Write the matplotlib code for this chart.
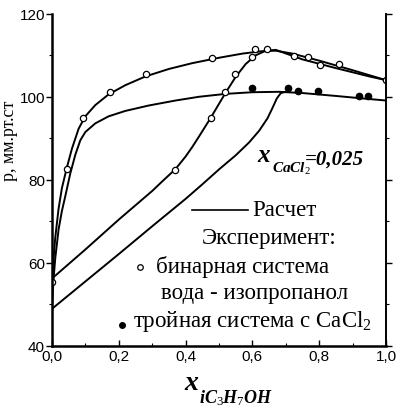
import numpy as np
import matplotlib.pyplot as plt
from matplotlib.ticker import MultipleLocator, FuncFormatter

plt.rcParams['font.family'] = ['Liberation Serif', 'DejaVu Serif']
plt.rcParams['mathtext.fontset'] = 'custom'
plt.rcParams['mathtext.it'] = 'Liberation Serif:italic:bold'
plt.rcParams['mathtext.rm'] = 'Liberation Serif'

# Расчетные кривые
# бинарная система, кривая кипения
x_bin_liq = [0.0, 0.005, 0.01, 0.02, 0.03, 0.045, 0.06, 0.08, 0.10, 0.13,
             0.17, 0.22, 0.28, 0.35, 0.42, 0.50, 0.57, 0.63, 0.67, 0.72,
             0.80, 0.90, 1.0]
p_bin_liq = [55.0, 61.0, 66.0, 73.0, 78.0, 83.0, 87.5, 92.3, 95.3, 98.0,
             100.6, 102.8, 104.9, 106.7, 108.1, 109.4, 110.4, 111.0, 111.1,
             110.4, 108.7, 106.4, 104.0]
# бинарная система, кривая конденсации
x_bin_vap = [0.0, 0.10, 0.20, 0.30, 0.33, 0.37, 0.40, 0.42, 0.44, 0.475,
             0.50, 0.52, 0.55, 0.58, 0.61, 0.64, 0.67, 0.75, 0.85, 0.95, 1.0]
p_bin_vap = [56.2, 63.2, 70.4, 77.3, 79.6, 82.6, 85.6, 87.9, 90.4, 94.9,
             98.3, 101.0, 104.8, 107.9, 110.0, 111.1, 111.3, 109.0, 106.9,
             104.9, 104.0]
# тройная система, кривая кипения
x_ter_liq = [0.0, 0.005, 0.01, 0.02, 0.03, 0.04, 0.055, 0.07, 0.085, 0.10,
             0.13, 0.17, 0.22, 0.29, 0.37, 0.44, 0.52, 0.60, 0.68, 0.75,
             0.85, 0.93, 1.0]
p_ter_liq = [49.0, 56.0, 61.0, 68.0, 72.5, 76.0, 81.5, 86.0, 89.5, 91.5,
             93.6, 95.3, 96.6, 97.9, 99.1, 100.0, 100.7, 101.1, 101.2, 100.9,
             100.2, 99.6, 99.1]
# тройная система, кривая конденсации
x_ter_vap = [0.0, 0.10, 0.20, 0.30, 0.40, 0.45, 0.50, 0.55, 0.59, 0.62,
             0.645, 0.66, 0.673, 0.685, 0.70]
p_ter_vap = [48.9, 55.5, 62.1, 68.8, 75.4, 78.9, 82.5, 85.9, 89.0, 91.8,
             94.8, 97.3, 99.6, 100.9, 101.2]

# Эксперимент
x_exp_bin = [0.0, 0.044, 0.094, 0.174, 0.281, 0.368, 0.475, 0.479, 0.518,
             0.548, 0.598, 0.608, 0.643, 0.723, 0.767, 0.802, 0.86, 1.0]
p_exp_bin = [55.4, 82.7, 95.0, 101.1, 105.5, 82.4, 95.0, 109.4, 101.1,
             105.5, 109.6, 111.4, 111.6, 109.8, 109.6, 107.7, 108.0, 104.1]
x_exp_ter = [0.598, 0.705, 0.735, 0.797, 0.92, 0.947]
p_exp_ter = [102.2, 102.1, 101.5, 101.5, 100.2, 100.2]

fig = plt.figure(figsize=(3.96, 4.10), dpi=100)
ax = fig.add_axes([0.131, 0.154, 0.844, 0.810])

for xs, ps in [(x_bin_liq, p_bin_liq), (x_bin_vap, p_bin_vap),
               (x_ter_liq, p_ter_liq), (x_ter_vap, p_ter_vap)]:
    ax.plot(xs, ps, color='black', lw=1.4, solid_joinstyle='round')

ax.plot(x_exp_bin, p_exp_bin, 'o', ms=4.5, mfc='white', mec='black', mew=0.9)
ax.plot(x_exp_ter, p_exp_ter, 'o', ms=4.5, mfc='black', mec='black')

ax.set_xlim(0, 1.0)
ax.set_ylim(40, 120)
ax.xaxis.set_major_locator(MultipleLocator(0.2))
ax.xaxis.set_minor_locator(MultipleLocator(0.1))
ax.yaxis.set_major_locator(MultipleLocator(20))
ax.yaxis.set_minor_locator(MultipleLocator(10))
ax.xaxis.set_major_formatter(FuncFormatter(lambda v, p: ('%.1f' % v).replace('.', ',')))
ax.tick_params(axis='both', which='major', labelsize=11, length=4, width=1)
ax.tick_params(axis='both', which='minor', length=2.5, width=0.8)
ax.tick_params(axis='x', which='both', direction='in', pad=2)
ax.tick_params(axis='y', which='both', direction='out', right=True, pad=1)
for lab in ax.get_xticklabels() + ax.get_yticklabels():
    lab.set_family('Liberation Sans')
ax.spines['top'].set_visible(False)
ax.spines['left'].set_linewidth(1.8)
ax.spines['bottom'].set_linewidth(1.8)
ax.spines['right'].set_linewidth(1.4)

ax.set_ylabel('р, мм.рт.ст', fontsize=13)
ax.yaxis.set_label_coords(-0.1, 0.62)

# подпись оси x
fig.text(184 / 396, 1 - 384 / 410, 'x', fontsize=20, style='italic',
         weight='bold', ha='left', va='center')
fig.text(199 / 396, 1 - 398 / 410, r'$iC_\mathit{3}H_\mathit{7}OH$',
         fontsize=13, ha='left', va='center')

# x_CaCl2 = 0,025
ax.text(0.616, 0.575, 'x', fontsize=18, style='italic', weight='bold',
        transform=ax.transAxes, ha='left', va='center')
ax.text(0.66, 0.535, r'$CaCl_\mathit{2}$', fontsize=11,
        transform=ax.transAxes, ha='left', va='center')
ax.text(0.757, 0.563, '=0,025', fontsize=15, style='italic', weight='bold',
        transform=ax.transAxes, ha='left', va='center')

# легенда
ax.plot([0.42, 0.587], [0.41, 0.41], color='black', lw=1.2, transform=ax.transAxes)
ax.text(0.6, 0.41, 'Расчет', fontsize=16.5, transform=ax.transAxes, va='center')
ax.text(0.65, 0.325, 'Эксперимент:', fontsize=16.5, transform=ax.transAxes,
        va='center', ha='center')
ax.plot([0.263], [0.238], 'o', ms=4, mfc='white', mec='black', mew=0.9,
        transform=ax.transAxes)
ax.text(0.312, 0.24, 'бинарная система', fontsize=16.5, transform=ax.transAxes,
        va='center')
ax.text(0.327, 0.16, 'вода - изопропанол', fontsize=16.5, transform=ax.transAxes,
        va='center')
ax.plot([0.211], [0.063], 'o', ms=4, mfc='black', mec='black',
        transform=ax.transAxes)
ax.text(0.244, 0.075, 'тройная система с CaCl$_\\mathrm{2}$', fontsize=16.5,
        transform=ax.transAxes, va='center')

fig.savefig('out.png', dpi=100)
